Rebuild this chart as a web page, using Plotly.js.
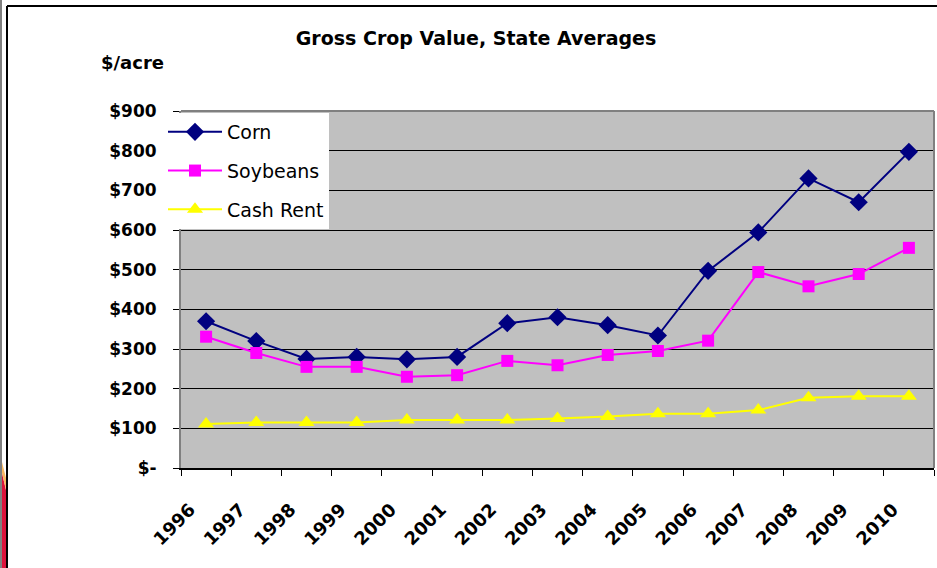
<!DOCTYPE html>
<html>
<head>
<meta charset="utf-8">
<script src="https://cdn.plot.ly/plotly-3.0.1.min.js"></script>
<style>
html,body{margin:0;padding:0;background:#fff;}
#chart{width:937px;height:568px;}
</style>
</head>
<body>
<div id="chart"></div>
<script>
var years = ["1996","1997","1998","1999","2000","2001","2002","2003","2004","2005","2006","2007","2008","2009","2010"];
var corn = [370, 320, 275, 280, 274, 280, 365, 380, 360, 334, 497, 594, 730, 670, 797];
var soybeans = [331, 290, 255, 255, 230, 234, 270, 259, 285, 295, 321, 494, 458, 489, 555];
var cashRent = [111, 115, 115, 115, 121, 121, 121, 125, 130, 137, 137, 146, 177, 181, 181];
var yTickVals = [0, 100, 200, 300, 400, 500, 600, 700, 800, 900];
var yTickText = ["$-", "$100", "$200", "$300", "$400", "$500", "$600", "$700", "$800", "$900"];

var W = 937, H = 568, L = 181, R = 3, T = 111, B = 100;
var pw = W - L - R, ph = H - T - B;
function px(x){ return (x - L) / pw; }
function py(y){ return (H - B - y) / ph; }

var FONT = "DejaVu Sans, Verdana, sans-serif";

var traces = [
  {x: years, y: corn, name: "Corn", type: "scatter", mode: "lines+markers", legendgroup: "a",
   line: {color: "#000080", width: 2}, marker: {symbol: "diamond", size: 14, color: "#000080"}},
  {x: years, y: soybeans, name: "Soybeans", type: "scatter", mode: "lines+markers", legendgroup: "b",
   line: {color: "#FF00FF", width: 2}, marker: {symbol: "square", size: 12, color: "#FF00FF"}},
  {x: years, y: cashRent, name: "Cash Rent", type: "scatter", mode: "lines+markers", legendgroup: "c",
   line: {color: "#FFFF00", width: 2}, marker: {symbol: "triangle-up", size: 14, color: "#FFFF00"}}
];

var layout = {
  width: W, height: H,
  margin: {l: L, r: R, t: T, b: B, pad: 0},
  paper_bgcolor: "#FFFFFF",
  plot_bgcolor: "#C0C0C0",
  font: {family: FONT, color: "#000"},
  title: {text: "<b>Gross Crop Value, State Averages</b>", font: {family: FONT, size: 19, color: "#000"},
          x: px(476), xref: "paper", xanchor: "center", y: 1 - 38/H, yanchor: "middle"},
  showlegend: true,
  legend: {x: px(166), y: py(113), xanchor: "left", yanchor: "top", bgcolor: "#FFFFFF",
           borderwidth: 0, font: {family: FONT, size: 19, color: "#000"},
           tracegroupgap: 11, traceorder: "grouped", itemwidth: 51},
  xaxis: {type: "category", tickson: "boundaries", ticks: "outside", ticklen: 6, tickwidth: 1,
          tickcolor: "#000", showline: true, linecolor: "#000", linewidth: 2, showgrid: false,
          tickangle: -45, tickfont: {family: FONT, size: 18, color: "#000", weight: "bold"},
          ticklabelstandoff: 22, ticklabelshift: -16,
          range: [-0.5, 14.5], zeroline: false},
  yaxis: {range: [0, 900], tickvals: yTickVals, ticktext: yTickText, ticks: "outside", ticklen: 6,
          tickcolor: "#000", showline: true, linecolor: "#808080", linewidth: 2,
          showgrid: true, gridcolor: "#000", gridwidth: 1, zeroline: false,
          tickfont: {family: FONT, size: 17, color: "#000", weight: "bold"}, ticklabelstandoff: 13},
  annotations: [
    {text: "<b>$/acre</b>", xref: "paper", yref: "paper", x: px(132), y: py(62), xanchor: "center",
     yanchor: "middle", showarrow: false, font: {family: FONT, size: 18, color: "#000"}}
  ],
  shapes: [
    {type: "line", xref: "paper", yref: "paper", x0: 0, x1: 1, y0: 1, y1: 1, line: {color: "#808080", width: 2}},
    {type: "line", xref: "paper", yref: "paper", x0: 1, x1: 1, y0: 0, y1: 1, line: {color: "#808080", width: 2}},
    {type: "line", xref: "paper", yref: "paper", x0: px(7), x1: px(940), y0: py(6), y1: py(6), line: {color: "#000", width: 2}},
    {type: "line", xref: "paper", yref: "paper", x0: px(7), x1: px(7), y0: py(6), y1: py(570), line: {color: "#000", width: 2}},
    {type: "rect", xref: "paper", yref: "paper", x0: px(-1), x1: px(2), y0: py(0), y1: py(570), line: {width: 0}, fillcolor: "#808080"},
    {type: "path", xref: "paper", yref: "paper",
     path: "M " + px(2) + " " + py(473) + " L " + px(6) + " " + py(490) + " L " + px(6) + " " + py(570) + " L " + px(2) + " " + py(570) + " Z",
     line: {width: 0}, fillcolor: "#DC143C"},
    {type: "path", xref: "paper", yref: "paper",
     path: "M " + px(2) + " " + py(462) + " L " + px(6) + " " + py(478) + " L " + px(6) + " " + py(490) + " L " + px(2) + " " + py(473) + " Z",
     line: {width: 0}, fillcolor: "#F8B860"}
  ]
};

Plotly.newPlot("chart", traces, layout, {displayModeBar: false, staticPlot: true}).then(function(gd){
  var lines = gd.querySelectorAll(".legend .legendlines path");
  lines.forEach(function(p){ p.setAttribute("d", "M2,0h54"); });
  var pts = gd.querySelectorAll(".legend .legendpoints path");
  pts.forEach(function(p){ p.setAttribute("transform", "translate(29,0)"); });
});
</script>
</body>
</html>
